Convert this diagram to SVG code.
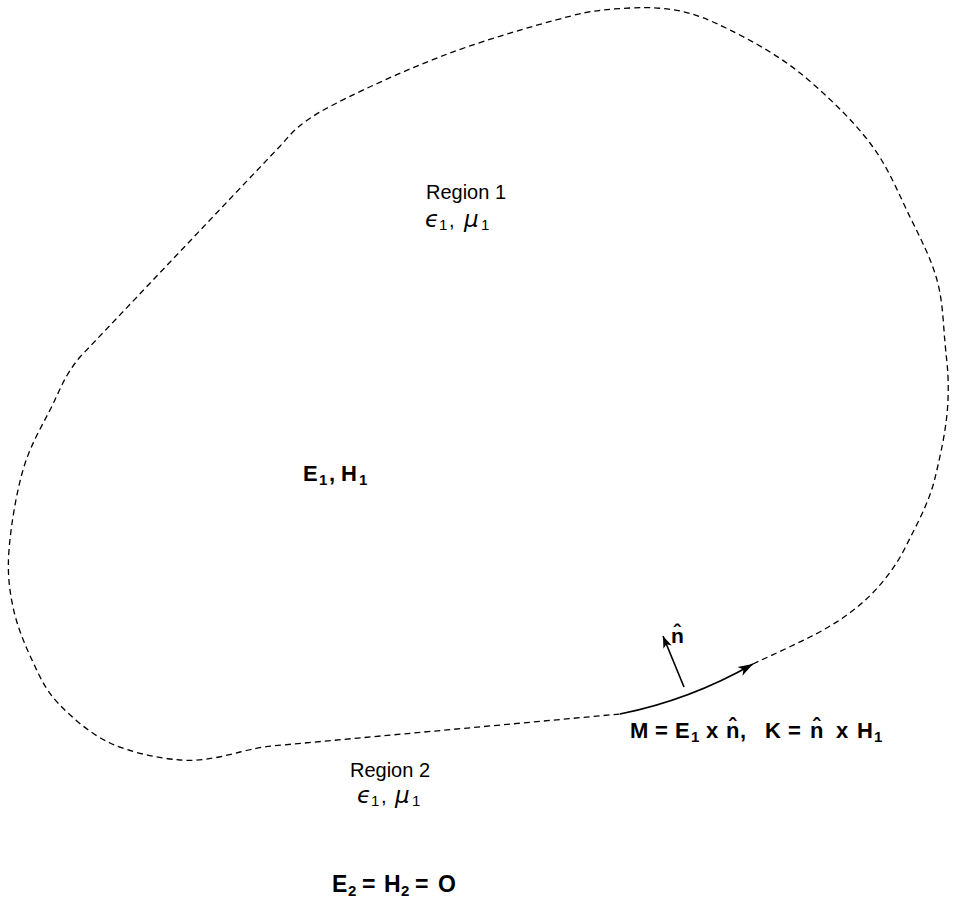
<svg xmlns="http://www.w3.org/2000/svg" width="957" height="900" viewBox="0 0 957 900">
<defs>
<style>
.bd{fill:none;stroke:#000;stroke-width:1.3;stroke-dasharray:6 4}
.sl{fill:none;stroke:#000;stroke-width:1.6}
.t{font-family:"Liberation Sans",Arial,sans-serif;fill:#000}
.r{font-size:20px}
.b{font-weight:bold;font-size:22px}
.gk{font-family:"DejaVu Sans","Liberation Serif",serif;font-style:italic;font-size:23px}
.sub{font-size:15px}
</style>
<marker id="ah" viewBox="-15 -6 16 12" refX="0" refY="0" markerWidth="16" markerHeight="12" markerUnits="userSpaceOnUse" orient="auto">
<path d="M0,0 L-15,-5 L-11,0 L-15,5 Z" fill="#000"/>
</marker>
<marker id="ah2" viewBox="-13 -5 14 10" refX="0" refY="0" markerWidth="14" markerHeight="10" markerUnits="userSpaceOnUse" orient="auto">
<path d="M0,0 L-12,-4.5 L-9,0 L-12,4.5 Z" fill="#000"/>
</marker>
</defs>
<rect width="957" height="900" fill="#fff"/>
<g id="connectors">
<path id="boundary" class="bd" d="M753,664 C772,655 792,646 810,637 C828,628 846,617 862,603 C878,589 894,570 905,548 C916,526 929,503 935,478 C941,453 947,426 948,400 C949,374 946.8,363 945,343 C943.2,323 942.8,301 937,280 C931.2,259 921.2,239.8 910,217 C898.8,194.2 888.3,167 870,143 C851.7,119 823.3,91.8 800,73 C776.7,54.2 750,40 730,30 C710,20 695.5,14 680,11 C664.5,8 650,7 630,8 C610,9 600,10 583,13 C551.8,20.5 492.2,37.3 450,53 C407.8,68.7 350,95 320,112 C300,124 292,132 283,143 L80,357 C63.3,377 59.5,391.7 50,410 C40.5,428.3 29.8,446.7 23,470 C16.2,493.3 10.7,527.2 9,550 C7.3,572.8 9.2,588.7 13,607 C16.8,625.3 24.5,644 32,660 C39.5,676 45,689.2 58,703 C71,716.8 89.7,733.5 110,743 C130.3,752.5 158.3,758.2 180,760 C201.7,761.8 223.3,756.3 240,752 C252,749 262,747 272,746 L620,714"/>
<path id="current" class="sl" d="M620,714 Q690,700 753,664" marker-end="url(#ah)"/>
<path id="normal" class="sl" d="M684,687 L663,636" marker-end="url(#ah2)"/>
</g>
<g id="region1">
<text class="t r" x="466" y="199" text-anchor="middle">Region 1</text>
<text class="t" y="227"><tspan class="gk" x="425">ϵ</tspan><tspan class="sub" x="439" dy="3">1</tspan><tspan class="r" x="449" dy="-3">,</tspan><tspan class="gk" x="464">μ</tspan><tspan class="sub" x="481" dy="3">1</tspan></text>
</g>
<g id="fields1">
<text class="t b" y="481"><tspan x="303">E</tspan><tspan class="sub" x="319" dy="4">1</tspan><tspan x="329" dy="-4">,</tspan><tspan x="341">H</tspan><tspan class="sub" x="359" dy="4">1</tspan></text>
</g>
<g id="normal-label">
<text class="t b" x="671" y="643" style="font-size:21px">n̂</text>
</g>
<g id="formula">
<text class="t b" y="738"><tspan x="630">M</tspan><tspan x="655">=</tspan><tspan x="675">E</tspan><tspan class="sub" x="691" dy="4">1</tspan><tspan x="706" dy="-4">x</tspan><tspan x="726">n̂</tspan><tspan x="740">,</tspan><tspan x="765">K</tspan><tspan x="788">=</tspan><tspan x="810">n̂</tspan><tspan x="836">x</tspan><tspan x="857">H</tspan><tspan class="sub" x="874" dy="4">1</tspan></text>
</g>
<g id="region2">
<text class="t r" x="390" y="777" text-anchor="middle">Region 2</text>
<text class="t" y="803"><tspan class="gk" x="357">ϵ</tspan><tspan class="sub" x="371" dy="3">1</tspan><tspan class="r" x="381" dy="-3">,</tspan><tspan class="gk" x="395">μ</tspan><tspan class="sub" x="412" dy="3">1</tspan></text>
</g>
<g id="fields2">
<text class="t b" y="892" style="font-size:23px"><tspan x="332">E</tspan><tspan class="sub" x="348" dy="4">2</tspan><tspan x="362" dy="-4">=</tspan><tspan x="384">H</tspan><tspan class="sub" x="401" dy="4">2</tspan><tspan x="415" dy="-4">=</tspan><tspan x="438">O</tspan></text>
</g>
</svg>
